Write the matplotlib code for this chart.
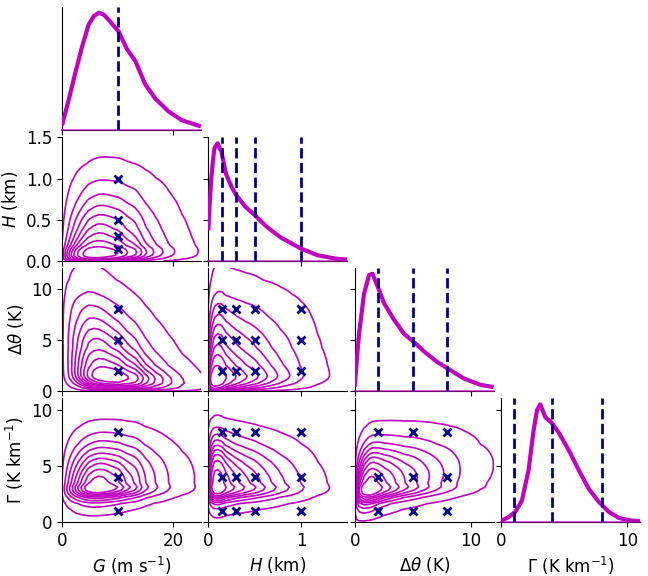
import math
import numpy as np
import matplotlib
matplotlib.use("Agg")
import matplotlib.pyplot as plt

# ---- diagonal KDE curves (relative height) ----
G_x = [0, 1.2, 2.4, 3.6, 4.8, 5.7, 6.6, 7.5, 8.4, 10.2, 11.0, 11.7, 13.2, 15.0, 16.8, 19.2, 21.6, 25.0]
G_y = [0.043, 0.26, 0.49, 0.71, 0.90, 0.97, 1.0, 0.985, 0.94, 0.84, 0.76, 0.69, 0.59, 0.39, 0.27, 0.16, 0.086, 0.034]

H_x = [0, 0.015, 0.03, 0.05, 0.066, 0.10, 0.14, 0.19, 0.25, 0.30, 0.40, 0.50, 0.63, 0.78, 1.0, 1.18, 1.37, 1.5]
H_y = [0.26, 0.50, 0.69, 0.86, 0.96, 1.0, 0.93, 0.74, 0.63, 0.56, 0.46, 0.39, 0.29, 0.20, 0.105, 0.048, 0.02, 0.011]

D_x = [0, 0.2, 0.37, 0.8, 1.24, 1.52, 1.95, 2.53, 3.39, 4.25, 5.11, 5.98, 7.13, 8.28, 9.43, 10.86, 12.0]
D_y = [0.04, 0.30, 0.49, 0.83, 0.99, 1.0, 0.90, 0.75, 0.61, 0.49, 0.42, 0.34, 0.25, 0.18, 0.11, 0.056, 0.037]

L_x = [0, 0.58, 1.11, 1.64, 2.17, 2.57, 2.84, 3.1, 3.5, 4.03, 4.56, 5.36, 6.15, 6.95, 7.74, 8.54, 9.33, 10.1, 11.0]
L_y = [0.01, 0.04, 0.085, 0.18, 0.44, 0.78, 0.95, 1.0, 0.89, 0.84, 0.76, 0.61, 0.44, 0.28, 0.17, 0.085, 0.034, 0.014, 0.008]

# ---- reference parameter values (markers / dashed lines) ----
G_ref = [10]
H_ref = [0.15, 0.3, 0.5, 1.0]
D_ref = [2, 5, 8]
L_ref = [1, 4, 8]

# ---- pairwise dependence (gaussian copula correlation) estimated from contours ----
pair_rho = {(0, 1): 0.1, (0, 2): -0.3, (0, 3): 0.1, (1, 2): 0.15, (1, 3): 0.0, (2, 3): 0.3}

labels = [r"$G$ (m s$^{-1}$)", r"$H$ (km)", r"$\Delta\theta$ (K)", r"$\Gamma$ (K km$^{-1}$)"]
limits = [(0, 25), (0, 1.5), (0, 12), (0, 11)]
ticks = [[0, 20], [0, 1], [0, 10], [0, 10]]
yticks = [None, [0, 0.5, 1.0, 1.5], [0, 5, 10], [0, 5, 10]]
curves = [(G_x, G_y), (H_x, H_y), (D_x, D_y), (L_x, L_y)]
refs = [G_ref, H_ref, D_ref, L_ref]

MAG = "#bf00bf"
NAVY = "#00008b"

# normal ppf helper (no scipy)
_z = np.linspace(-6, 6, 6001)
_cdf = 0.5 * (1 + np.vectorize(math.erf)(_z / math.sqrt(2)))


def ppf(u):
    return np.interp(np.clip(u, 1e-7, 1 - 1e-7), _cdf, _z)


def marginal(k, n=320):
    lo, hi = limits[k]
    xs, ys = np.asarray(curves[k][0], float), np.asarray(curves[k][1], float)
    top = hi + 0.7 * (hi - lo)
    g = np.linspace(lo, top, n)
    f = np.interp(g, xs, ys)
    # exponential tail beyond the visible range, continuing the last read slope
    decay = (xs[-1] - xs[-2]) / math.log(ys[-2] / ys[-1])
    out = g > xs[-1]
    f[out] = ys[-1] * np.exp(-(g[out] - xs[-1]) / decay)
    F = np.concatenate([[0], np.cumsum(0.5 * (f[1:] + f[:-1]) * np.diff(g))])
    F = F / F[-1]
    F = 0.002 + 0.996 * F
    return g, f, F


def iso_levels(P, n=10, thresh=0.05):
    iso = np.linspace(thresh, 1, n)
    vals = np.sort(P.ravel())[::-1]
    cum = np.cumsum(vals) / vals.sum()
    idx = np.searchsorted(cum, 1 - iso)
    lev = np.take(vals, idx, mode="clip")
    lev = np.unique(lev)
    return lev[lev < P.max()]


fig, axes = plt.subplots(4, 4, figsize=(6.48, 5.76), dpi=100, sharex="col", sharey="row")
fig.subplots_adjust(left=0.0957, right=0.9877, bottom=0.0938, top=0.988, wspace=0.054, hspace=0.057)

for i in range(4):
    for j in range(4):
        if j > i:
            axes[i, j].remove()

for i in range(4):
    for j in range(i + 1):
        ax = axes[i, j]
        ax.spines["top"].set_visible(False)
        ax.spines["right"].set_visible(False)
        ax.tick_params(labelsize=12)
        if i == j:
            tw = ax.twinx()
            tw.plot(curves[i][0], curves[i][1], color=MAG, lw=3, solid_capstyle="butt")
            tw.axhline(0, color=MAG, lw=1.5, alpha=0.6, clip_on=False)
            for v in refs[i]:
                tw.axvline(v, color=NAVY, ls="--", lw=2)
            tw.set_ylim(0, 1.05)
            tw.axis("off")
        else:
            gx, fx, Fx = marginal(j)
            gy, fy, Fy = marginal(i)
            r = pair_rho[(j, i)]
            a = ppf(Fx)[None, :]
            b = ppf(Fy)[:, None]
            c = np.exp(-(r ** 2 * (a ** 2 + b ** 2) - 2 * r * a * b) / (2 * (1 - r ** 2))) / np.sqrt(1 - r ** 2)
            P = fy[:, None] * fx[None, :] * c
            X, Y = np.meshgrid(gx, gy)
            ax.contour(X, Y, P, levels=iso_levels(P), colors=MAG, linewidths=1.2)
            for xv in refs[j]:
                for yv in refs[i]:
                    ax.plot(xv, yv, "x", color=NAVY, ms=5.5, mew=2.0)

for j in range(4):
    axes[3, j].set_xlim(*limits[j])
    axes[3, j].set_xticks(ticks[j])
    axes[3, j].set_xlabel(labels[j], fontsize=12)
for i in range(1, 4):
    axes[i, 0].set_ylim(*limits[i])
    axes[i, 0].set_yticks(yticks[i])
    axes[i, 0].set_ylabel(labels[i], fontsize=12)
axes[0, 0].set_yticks([])
axes[0, 0].tick_params(axis="y", length=0)

fig.savefig("out.png", dpi=100)
